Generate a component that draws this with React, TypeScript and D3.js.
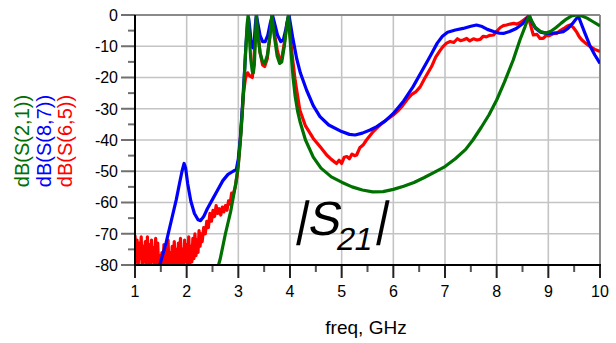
import React from "react";
import * as d3 from "d3";

// ---- Data ----
const xTicks = [1, 2, 3, 4, 5, 6, 7, 8, 9, 10];
const yTicks = [0, -10, -20, -30, -40, -50, -60, -70, -80];
const legendLabels = ["dB(S(2,1))", "dB(S(8,7))", "dB(S(6,5))"];

const greenFreq = [2.55, 2.65, 2.75, 2.85, 2.95, 3.0, 3.05, 3.1, 3.14, 3.17, 3.19, 3.21, 3.24, 3.27, 3.29, 3.31, 3.33, 3.35, 3.37, 3.42, 3.47, 3.51, 3.56, 3.61, 3.65, 3.69, 3.75, 3.8, 3.84, 3.89, 3.94, 3.97, 3.99, 4.02, 4.06, 4.1, 4.15, 4.2, 4.3, 4.45, 4.6, 4.8, 5.0, 5.2, 5.4, 5.6, 5.8, 6.0, 6.2, 6.4, 6.6, 6.8, 7.0, 7.2, 7.4, 7.54, 7.7, 7.85, 8.0, 8.15, 8.32, 8.45, 8.55, 8.63, 8.68, 8.75, 8.85, 8.95, 9.05, 9.15, 9.25, 9.35, 9.45, 9.55, 9.65, 9.75, 9.85, 10.0];
const greenDb = [-84, -78, -70, -63, -54, -48, -38, -25, -12, -3, 0, -6, -14, -18, -18.5, -16, -8, 0, -5, -12, -15, -15.5, -13, -7, 0, -6, -13, -15.5, -15, -10, -3, 0, -5, -12, -20, -26, -31, -34.5, -40, -45.5, -49, -51.8, -53.5, -55, -56, -56.6, -56.5, -55.8, -54.8, -53.6, -52, -50.3, -48.5, -46, -43, -40, -36, -32, -27.2, -21.5, -14.4, -8, -3.7, 0, -2, -4, -5.3, -5.8, -5.2, -4, -2.6, -1.3, -0.3, 0, -0.3, -1, -2, -3.5];

const blueFreq = [1.4, 1.48, 1.6, 1.7, 1.8, 1.86, 1.91, 1.95, 1.98, 2.02, 2.08, 2.15, 2.22, 2.27, 2.33, 2.4, 2.5, 2.6, 2.7, 2.8, 2.9, 2.96, 3.0, 3.04, 3.08, 3.12, 3.15, 3.18, 3.2, 3.22, 3.25, 3.28, 3.31, 3.33, 3.35, 3.37, 3.42, 3.47, 3.52, 3.57, 3.62, 3.66, 3.7, 3.76, 3.82, 3.87, 3.92, 3.96, 3.98, 4.0, 4.05, 4.13, 4.2, 4.32, 4.45, 4.58, 4.75, 5.0, 5.15, 5.26, 5.4, 5.55, 5.68, 5.85, 6.0, 6.2, 6.38, 6.55, 6.71, 6.85, 6.95, 7.05, 7.2, 7.35, 7.5, 7.61, 7.72, 7.82, 7.94, 8.05, 8.13, 8.25, 8.38, 8.5, 8.58, 8.63, 8.68, 8.75, 8.85, 8.97, 9.1, 9.2, 9.29, 9.38, 9.48, 9.55, 9.59, 9.63, 9.7, 9.81, 9.9, 10.0];
const blueDb = [-86, -80, -73, -66, -59, -54, -50, -47.5, -49, -54, -59.5, -63.5, -65.5, -65.8, -64.5, -62, -59, -56, -53, -51, -50, -49.5, -46, -39, -29, -18, -9, -3, -1, -4, -9, -10.5, -8, -3, 0, -2, -6.5, -8.5, -8.5, -6.5, -2.5, 0, -2.5, -6.5, -8.5, -8, -4.5, -1, 0, -2, -7, -14, -18.5, -24, -29, -32.5, -35.2, -37.3, -38.2, -38.4, -37.8, -36.8, -35.7, -33.8, -31.5, -27.5, -23, -18, -13.3, -9, -6.8, -5.5, -4.8, -4.3, -3.6, -3.2, -3.7, -4.6, -5.3, -5.8, -5.9, -5.3, -4.3, -2.8, -1.2, -0.3, -2.2, -4.2, -5.5, -5.9, -5.8, -5.6, -5.3, -4.3, -2.5, -1, -0.7, -2.5, -5.5, -10, -12.8, -15.5];

const redFreq = [1.0, 1.02, 1.04, 1.06, 1.08, 1.1, 1.12, 1.14, 1.16, 1.18, 1.2, 1.22, 1.24, 1.26, 1.28, 1.3, 1.32, 1.34, 1.36, 1.38, 1.4, 1.42, 1.44, 1.46, 1.48, 1.5, 1.52, 1.54, 1.56, 1.58, 1.6, 1.62, 1.64, 1.66, 1.68, 1.7, 1.72, 1.74, 1.76, 1.78, 1.8, 1.82, 1.84, 1.86, 1.88, 1.9, 1.92, 1.94, 1.96, 1.98, 2.0, 2.02, 2.04, 2.06, 2.08, 2.1, 2.12, 2.14, 2.16, 2.18, 2.2, 2.22, 2.24, 2.26, 2.28, 2.3, 2.33, 2.36, 2.39, 2.42, 2.45, 2.48, 2.51, 2.54, 2.57, 2.6, 2.63, 2.66, 2.69, 2.72, 2.75, 2.78, 2.81, 2.84, 2.87, 2.9, 2.94, 2.98, 3.02, 3.06, 3.1, 3.14, 3.18, 3.22, 3.27, 3.3, 3.33, 3.35, 3.37, 3.42, 3.47, 3.51, 3.56, 3.61, 3.65, 3.69, 3.75, 3.8, 3.84, 3.89, 3.94, 3.97, 4.0, 4.05, 4.1, 4.19, 4.3, 4.45, 4.6, 4.71, 4.8, 4.9, 4.95, 5.0, 5.05, 5.1, 5.15, 5.2, 5.25, 5.29, 5.35, 5.42, 5.48, 5.6, 5.74, 5.87, 6.0, 6.1, 6.18, 6.26, 6.35, 6.44, 6.52, 6.6, 6.67, 6.74, 6.82, 6.9, 6.96, 7.03, 7.1, 7.17, 7.24, 7.3, 7.35, 7.42, 7.48, 7.55, 7.62, 7.68, 7.74, 7.8, 7.87, 7.94, 8.0, 8.07, 8.13, 8.19, 8.26, 8.33, 8.39, 8.45, 8.53, 8.61, 8.66, 8.71, 8.78, 8.84, 8.9, 8.96, 9.02, 9.09, 9.16, 9.23, 9.3, 9.36, 9.42, 9.48, 9.55, 9.6, 9.65, 9.72, 9.8, 9.9, 10.0];
const redDb = [-70.5, -79, -72, -81, -73, -78, -71, -82, -74, -79, -72.5, -81, -71, -80, -73.5, -82, -72, -79, -74.5, -81, -71.5, -80, -73, -82, -77, -84, -76, -81, -73.5, -82, -75, -80, -72, -82, -76, -81, -74, -83, -72.5, -80, -75, -82, -73, -80, -71.5, -81, -75, -82, -72, -79, -73.5, -81, -71, -80, -74, -79, -71.5, -78, -70, -77, -72, -76, -69, -74, -70, -72.5, -68, -70, -66, -68, -63.5, -66, -62.5, -64.5, -61, -63.5, -62, -64, -61.5, -63, -61, -62.5, -59.5, -60.5, -57, -57.5, -55, -51, -44, -35, -25, -20, -18.5, -19.5, -20, -15, -6, -1, -4, -12, -16, -16.5, -14, -7, -1, -5, -11, -14.4, -14, -9, -3, -1, -6, -14, -21, -30.4, -35.5, -39.5, -42.5, -44.8, -46.2, -47.5, -46.5, -47.5, -45.5, -45.3, -46, -44.5, -45, -44.8, -42.5, -41.5, -40, -37.5, -35.2, -33.5, -32, -30.5, -29, -27.2, -25.5, -24.5, -23, -20.5, -18.5, -16.5, -13.5, -11.5, -10.1, -9, -8.5, -8.8, -7.6, -8.2, -8, -7.5, -8.3, -7.6, -8, -7.8, -6.8, -7, -6.5, -6.4, -5.2, -4, -3.4, -3.2, -2.9, -2.7, -2.9, -2.5, -1.5, -0.5, -3.5, -6.4, -6.2, -7.5, -7.5, -6.5, -6.6, -6, -5.9, -5, -4.3, -3.6, -3.2, -3.9, -5.5, -7, -8, -9, -10, -11, -11.7];

// ---- Layout ----
const W = 616;
const H = 343;
const left = 135;
const right = 600;
const top = 15;
const bottom = 265;
const FONT = "'Liberation Sans', Arial, Helvetica, sans-serif";

const x = d3.scaleLinear().domain([1, 10]).range([left, right]);
const y = d3.scaleLinear().domain([-80, 0]).range([bottom, top]);

function pathFor(fs: number[], ds: number[]) {
  const pts = fs.map((f, i) => [f, ds[i]] as [number, number]);
  return d3
    .line<[number, number]>()
    .x((d) => x(d[0]))
    .y((d) => y(d[1]))(pts) as string;
}

const series = [
  { f: redFreq, d: redDb, color: "#ff0000" },
  { f: blueFreq, d: blueDb, color: "#0000ff" },
  { f: greenFreq, d: greenDb, color: "#007000" },
];
const legendColors = ["#007000", "#0000ff", "#ff0000"];

export default function App() {
  const minorX = d3.range(1.5, 10, 1);
  const minorY = d3.range(-75, 0, 10);
  return (
    <svg
      width={W}
      height={H}
      style={{ position: "absolute", left: 0, top: 0, background: "#fff" }}
      fontFamily={FONT}
    >
      <defs>
        <clipPath id="plotClip">
          <rect x={left} y={top} width={right - left} height={bottom - top} />
        </clipPath>
      </defs>
      {/* grid */}
      {xTicks.slice(1, -1).map((t) => (
        <line key={"gx" + t} x1={x(t)} x2={x(t)} y1={top} y2={bottom} stroke="#c4c4c4" strokeWidth={1.6} />
      ))}
      {yTicks.slice(1, -1).map((t) => (
        <line key={"gy" + t} x1={left} x2={right} y1={y(t)} y2={y(t)} stroke="#c4c4c4" strokeWidth={1.6} />
      ))}
      {/* frame top/right */}
      <line x1={left} x2={right} y1={top} y2={top} stroke="#8a8a8a" strokeWidth={2} />
      <line x1={right} x2={right} y1={top} y2={bottom} stroke="#8a8a8a" strokeWidth={2} />
      {/* curves */}
      <g clipPath="url(#plotClip)">
        {series.map((s, i) => (
          <path key={i} d={pathFor(s.f, s.d)} fill="none" stroke={s.color} strokeWidth={3.2} strokeLinejoin="round" />
        ))}
      </g>
      {/* y ticks */}
      {yTicks.map((t) => (
        <g key={"yt" + t}>
          <line x1={left - 14} x2={left} y1={y(t)} y2={y(t)} stroke="#707070" strokeWidth={2} />
          <text x={118} y={y(t)} dy="0.36em" textAnchor="end" fontSize={16} fill="#000">
            {t}
          </text>
        </g>
      ))}
      {minorY.map((t) => (
        <line key={"my" + t} x1={left - 7} x2={left} y1={y(t)} y2={y(t)} stroke="#707070" strokeWidth={2} />
      ))}
      {/* x ticks */}
      {xTicks.map((t) => (
        <g key={"xt" + t}>
          <line x1={x(t)} x2={x(t)} y1={bottom} y2={bottom + 13} stroke="#222" strokeWidth={2} />
          <text x={x(t)} y={297} textAnchor="middle" fontSize={16} fill="#000">
            {t}
          </text>
        </g>
      ))}
      {minorX.map((t) => (
        <line key={"mx" + t} x1={x(t)} x2={x(t)} y1={bottom} y2={bottom + 7} stroke="#555" strokeWidth={2} />
      ))}
      {/* axes */}
      <line x1={left} x2={left} y1={top} y2={bottom + 1} stroke="#000" strokeWidth={2} />
      <line x1={left - 1} x2={right + 1} y1={bottom} y2={bottom} stroke="#000" strokeWidth={2} />
      {/* x label */}
      <text x={366} y={334} textAnchor="middle" fontSize={19} fill="#000">
        freq, GHz
      </text>
      {/* legend */}
      {legendLabels.map((l, i) => (
        <text
          key={l}
          transform={`translate(${29 + i * 21.5},141) rotate(-90)`}
          textAnchor="middle"
          fontSize={20}
          fill={legendColors[i]}
        >
          {l}
        </text>
      ))}
      {/* annotation */}
      <g transform="translate(294,235) skewX(-12)">
        <text x={0} y={0} fontSize={48} fill="#000">
          |S
          <tspan fontSize={32} dy={15}>21</tspan>
          <tspan fontSize={48} dy={-15}>|</tspan>
        </text>
      </g>
    </svg>
  );
}
